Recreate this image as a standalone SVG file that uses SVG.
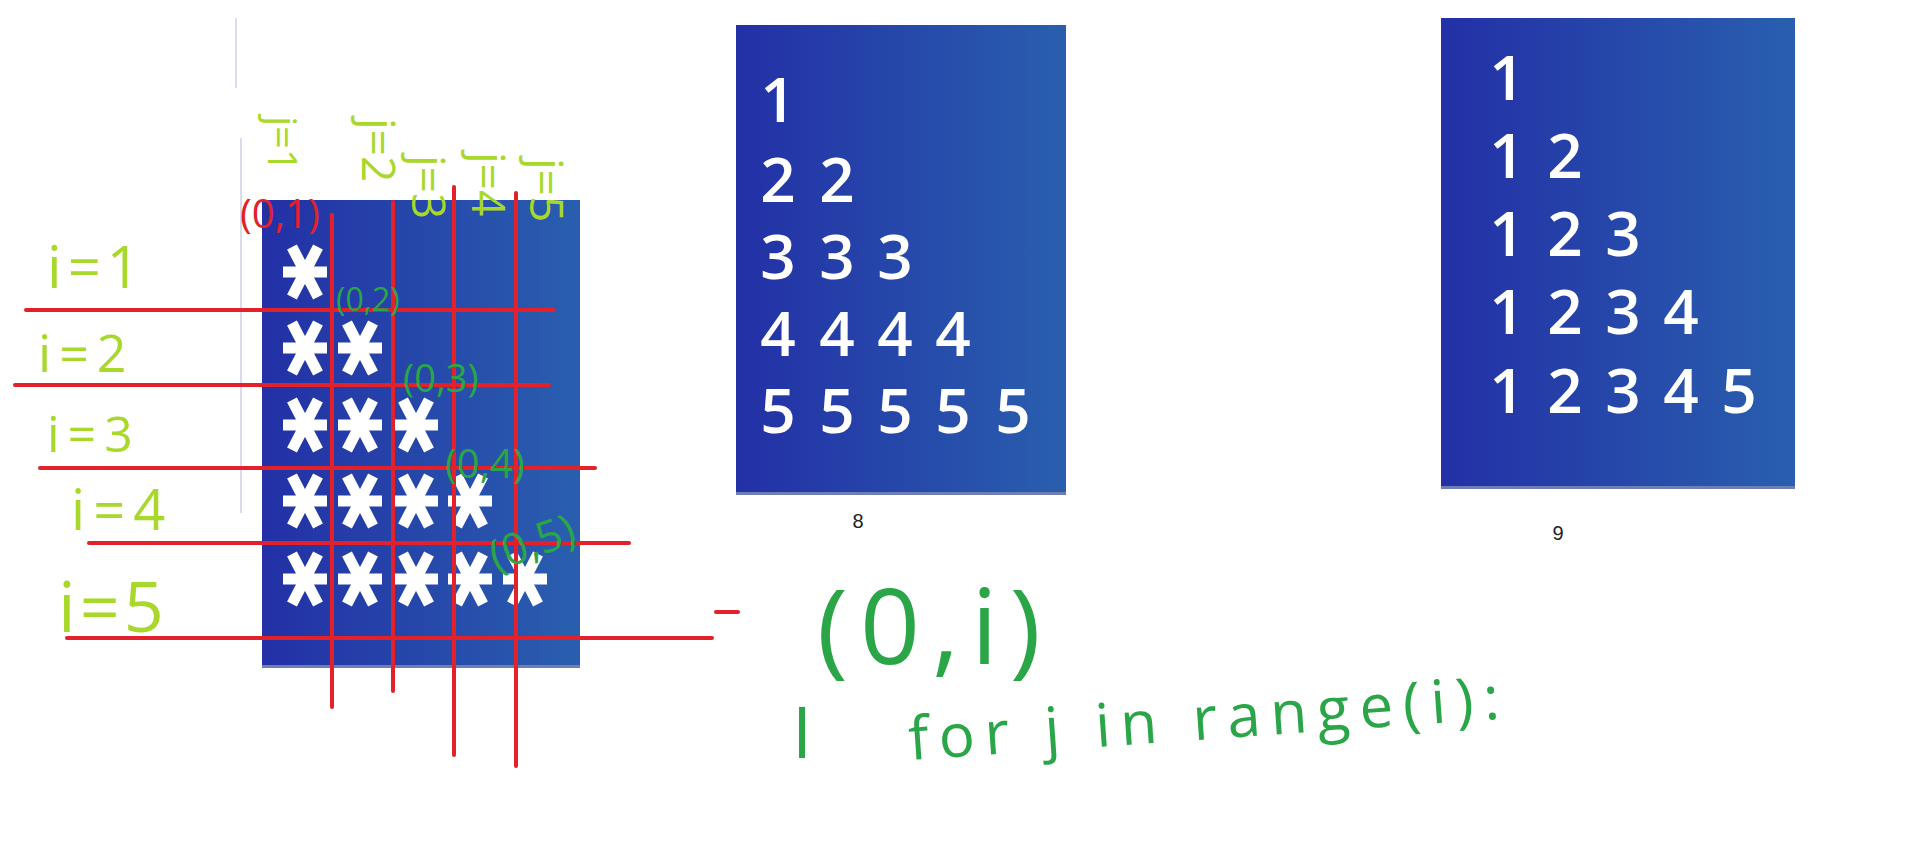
<svg xmlns="http://www.w3.org/2000/svg" width="1914" height="849" viewBox="0 0 1914 849">
<style>
.panel{fill:url(#pg)}
.edge{fill:#6f7fb4}
.num{font-family:"Open Sans","Liberation Sans",sans-serif;font-weight:600;font-size:62px;fill:#ffffff;text-anchor:middle}
.cap{font-family:"Liberation Sans",sans-serif;font-size:20px;fill:#222222;text-anchor:middle}
.red{stroke:#e3212b;stroke-width:4;stroke-linecap:round;fill:none}
.hy{font-family:"Open Sans","Liberation Sans",sans-serif;font-weight:400;fill:#a9d82c}
.hg{font-family:"Open Sans","Liberation Sans",sans-serif;font-weight:400;fill:#2aa547}
.hr{font-family:"Open Sans","Liberation Sans",sans-serif;font-weight:400;fill:#e3212b}
.faint{stroke:#d9dcef;stroke-width:2}
</style>
<defs>
<linearGradient id="pg" x1="0" y1="0" x2="1" y2="0">
<stop offset="0" stop-color="#2330a6"/>
<stop offset="1" stop-color="#295fae"/>
</linearGradient>
<g id="ast">
<line x1="-22" y1="0" x2="22" y2="0" stroke="#ffffff" stroke-width="11"/>
<line x1="-13" y1="-25" x2="13" y2="25" stroke="#ffffff" stroke-width="11"/>
<line x1="13" y1="-25" x2="-13" y2="25" stroke="#ffffff" stroke-width="11"/>
</g>
</defs>
<rect width="1914" height="849" fill="#ffffff"/>
<line class="faint" x1="236" y1="18" x2="236" y2="88"/>
<line class="faint" x1="241" y1="138" x2="241" y2="513"/>

<g id="panel-stars">
<rect class="panel" x="262" y="200" width="318" height="468"/>
<rect class="edge" x="262" y="665" width="318" height="3"/>
<use href="#ast" x="305" y="272"/>
<use href="#ast" x="305" y="348"/><use href="#ast" x="360" y="348"/>
<use href="#ast" x="305" y="425"/><use href="#ast" x="360" y="425"/><use href="#ast" x="416" y="425"/>
<use href="#ast" x="305" y="501"/><use href="#ast" x="360" y="501"/><use href="#ast" x="416" y="501"/><use href="#ast" x="470" y="501"/>
<use href="#ast" x="305" y="579"/><use href="#ast" x="360" y="579"/><use href="#ast" x="416" y="579"/><use href="#ast" x="470" y="579"/><use href="#ast" x="525" y="579"/>
</g>

<g id="panel-8">
<rect class="panel" x="736" y="25" width="330" height="470"/>
<rect class="edge" x="736" y="492" width="330" height="3"/>
<text class="num" x="778" y="122">1</text>
<text class="num" x="778" y="202">2</text><text class="num" x="837" y="202">2</text>
<text class="num" x="778" y="279">3</text><text class="num" x="837" y="279">3</text><text class="num" x="895" y="279">3</text>
<text class="num" x="778" y="356">4</text><text class="num" x="837" y="356">4</text><text class="num" x="895" y="356">4</text><text class="num" x="953" y="356">4</text>
<text class="num" x="778" y="433">5</text><text class="num" x="837" y="433">5</text><text class="num" x="895" y="433">5</text><text class="num" x="953" y="433">5</text><text class="num" x="1013" y="433">5</text>
<text class="cap" x="858" y="528">8</text>
</g>

<g id="panel-9">
<rect class="panel" x="1441" y="18" width="354" height="471"/>
<rect class="edge" x="1441" y="486" width="354" height="3"/>
<text class="num" x="1507" y="100">1</text>
<text class="num" x="1507" y="178">1</text><text class="num" x="1565" y="178">2</text>
<text class="num" x="1507" y="256">1</text><text class="num" x="1565" y="256">2</text><text class="num" x="1623" y="256">3</text>
<text class="num" x="1507" y="334">1</text><text class="num" x="1565" y="334">2</text><text class="num" x="1623" y="334">3</text><text class="num" x="1681" y="334">4</text>
<text class="num" x="1507" y="413">1</text><text class="num" x="1565" y="413">2</text><text class="num" x="1623" y="413">3</text><text class="num" x="1681" y="413">4</text><text class="num" x="1739" y="413">5</text>
<text class="cap" x="1558" y="540" font-size="18">9</text>
</g>

<g id="connectors">
<line class="red" x1="26" y1="310" x2="554" y2="310"/>
<line class="red" x1="15" y1="385" x2="549" y2="385"/>
<line class="red" x1="40" y1="468" x2="595" y2="468"/>
<line class="red" x1="89" y1="543" x2="629" y2="543"/>
<line class="red" x1="67" y1="638" x2="712" y2="638"/>
<line class="red" x1="716" y1="612" x2="738" y2="612"/>
<line class="red" x1="332" y1="215" x2="332" y2="707"/>
<line class="red" x1="393" y1="202" x2="393" y2="691"/>
<line class="red" x1="454" y1="187" x2="454" y2="755"/>
<line class="red" x1="516" y1="193" x2="516" y2="766"/>
</g>

<g id="row-labels">
<text class="hy" x="47" y="288" font-size="58" letter-spacing="6">i=1</text>
<text class="hy" x="38" y="372" font-size="52" letter-spacing="8">i=2</text>
<text class="hy" x="47" y="452" font-size="50" letter-spacing="8">i=3</text>
<text class="hy" x="71" y="530" font-size="56" letter-spacing="8">i=4</text>
<text class="hy" x="58" y="632" font-size="70" letter-spacing="4">i=5</text>
</g>

<g id="col-labels">
<text class="hy" font-size="40" transform="translate(268,116) rotate(90)">j=1</text>
<text class="hy" font-size="46" transform="translate(362,118) rotate(90)">j=2</text>
<text class="hy" font-size="46" transform="translate(412,155) rotate(90)">j=3</text>
<text class="hy" font-size="46" transform="translate(472,152) rotate(90)">j=4</text>
<text class="hy" font-size="46" transform="translate(530,158) rotate(90)">j=5</text>
</g>

<g id="pair-labels">
<text class="hr" x="240" y="228" font-size="40">(0,1)</text>
<text class="hg" x="336" y="311" font-size="32">(0,2)</text>
<text class="hg" x="403" y="392" font-size="38">(0,3)</text>
<text class="hg" x="445" y="478" font-size="40">(0,4)</text>
<text class="hg" font-size="44" transform="translate(496,572) rotate(-20)">(0,5)</text>
</g>

<g id="code-note">
<text class="hg" x="817" y="664" font-size="105" letter-spacing="12">(0,i)</text>
<text class="hg" x="792" y="758" font-size="72">I</text>
<text class="hg" font-size="60" letter-spacing="10" transform="translate(910,760) rotate(-4)">for j in range(i):</text>
</g>
</svg>
